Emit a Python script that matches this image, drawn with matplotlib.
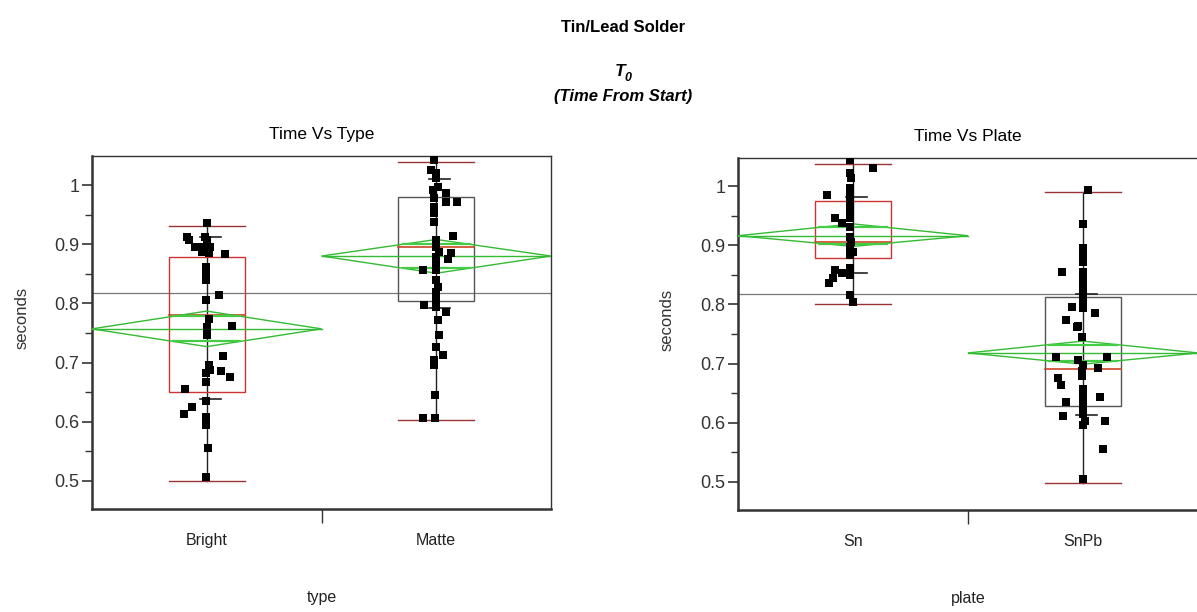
import matplotlib
matplotlib.use("Agg")
import matplotlib.pyplot as plt
from matplotlib.patches import Polygon, Rectangle
from matplotlib.ticker import MultipleLocator

W, H = 1197, 612

NARROW = ["Liberation Sans Narrow", "Liberation Sans", "DejaVu Sans"]
REGULAR = ["Liberation Sans", "DejaVu Sans"]

GRAND_MEAN = 0.818

# panel 1: time vs type
TYPE_GROUPS = ["Bright", "Matte"]
# panel 2: time vs plate
PLATE_GROUPS = ["Sn", "SnPb"]

# box summaries: q1, median, q3, whisker low, whisker high, p10, p90
BOX_STATS = {
    "Bright": (0.650, 0.780, 0.878, 0.500, 0.931, 0.638, 0.912),
    "Matte": (0.804, 0.895, 0.980, 0.603, 1.039, 0.793, 1.010),
    "Sn": (0.878, 0.905, 0.975, 0.801, 1.037, 0.853, 0.981),
    "SnPb": (0.628, 0.691, 0.812, 0.498, 0.990, 0.613, 0.818),
}
# means diamond: mean, lower 95%, upper 95%
DIAMONDS = {
    "Bright": (0.757, 0.727, 0.787),
    "Matte": (0.880, 0.851, 0.908),
    "Sn": (0.916, 0.898, 0.936),
    "SnPb": (0.718, 0.699, 0.738),
}
BOX_EDGE = {"Bright": "#cc3333", "Matte": "#555555", "Sn": "#cc3333", "SnPb": "#555555"}

# jittered observations: offset from group centre (group units), seconds
BRIGHT_DX = [0.0, -0.087, -0.079, -0.052, -0.009, 0.0, -0.022, 0.013, 0.009, -0.022,
             0.079, -0.004, -0.004, -0.004, -0.004, 0.052, 0.009, 0.0, 0.0, 0.109,
             0.070, 0.009, 0.013, -0.004, 0.061, 0.100, -0.004, -0.096, -0.004, -0.066,
             -0.100, -0.004, -0.004, -0.004, 0.004, -0.004]
BRIGHT_Y = [0.936, 0.912, 0.907, 0.895, 0.912, 0.907, 0.895, 0.895, 0.885, 0.887,
            0.884, 0.861, 0.851, 0.840, 0.806, 0.814, 0.774, 0.760, 0.747, 0.762,
            0.711, 0.696, 0.687, 0.682, 0.686, 0.676, 0.667, 0.655, 0.635, 0.625,
            0.613, 0.608, 0.600, 0.595, 0.556, 0.507]
MATTE_DX = [-0.009, -0.022, 0.0, 0.0, -0.013, 0.009, 0.044, 0.044, 0.092, -0.009,
            -0.009, -0.009, -0.009, 0.074, 0.0, 0.0, 0.013, 0.066, 0.052, 0.0,
            0.0, -0.057, 0.0, 0.0, 0.009, 0.0, -0.052, 0.0, 0.0, 0.044,
            0.009, 0.013, 0.0, 0.031, -0.009, -0.009, -0.004, -0.057, -0.004]
MATTE_Y = [1.042, 1.025, 1.020, 1.012, 0.992, 0.997, 0.986, 0.971, 0.971, 0.978,
           0.963, 0.953, 0.938, 0.914, 0.907, 0.895, 0.887, 0.885, 0.875, 0.878,
           0.868, 0.856, 0.856, 0.840, 0.828, 0.819, 0.797, 0.806, 0.794, 0.785,
           0.772, 0.747, 0.726, 0.713, 0.704, 0.696, 0.645, 0.606, 0.606]
SN_DX = [-0.013, 0.087, -0.013, -0.009, -0.114, -0.013, -0.013, -0.013, -0.013, -0.013,
         -0.013, -0.079, -0.048, -0.013, -0.013, -0.009, -0.013, 0.0, -0.013, -0.079,
         -0.048, -0.013, -0.013, -0.087, -0.105, -0.013, 0.0]
SN_Y = [1.044, 1.030, 1.022, 1.014, 0.985, 0.997, 0.988, 0.980, 0.968, 0.956,
        0.946, 0.946, 0.938, 0.931, 0.914, 0.905, 0.897, 0.889, 0.883, 0.858,
        0.853, 0.861, 0.850, 0.845, 0.836, 0.816, 0.804]
SNPB_DX = [0.022, 0.0, 0.0, 0.0, 0.0, -0.092, 0.0, 0.0, 0.0, 0.0,
           0.0, -0.048, 0.0, 0.052, -0.074, -0.022, -0.026, -0.004, -0.118, 0.105,
           -0.022, 0.0, 0.066, -0.004, -0.004, -0.109, -0.096, 0.0, 0.0, 0.074,
           -0.074, 0.0, 0.0, -0.087, 0.0, 0.009, 0.096, 0.0, 0.087, 0.0]
SNPB_Y = [0.993, 0.936, 0.895, 0.883, 0.872, 0.855, 0.855, 0.845, 0.833, 0.821,
          0.807, 0.796, 0.794, 0.785, 0.774, 0.764, 0.762, 0.745, 0.711, 0.711,
          0.706, 0.698, 0.693, 0.687, 0.679, 0.676, 0.664, 0.657, 0.649, 0.644,
          0.635, 0.635, 0.625, 0.611, 0.615, 0.603, 0.603, 0.596, 0.556, 0.505]

POINTS = {
    "Bright": (BRIGHT_DX, BRIGHT_Y),
    "Matte": (MATTE_DX, MATTE_Y),
    "Sn": (SN_DX, SN_Y),
    "SnPb": (SNPB_DX, SNPB_Y),
}

YTICKS = [0.5, 0.6, 0.7, 0.8, 0.9, 1.0]
YTICK_LABELS = ["0.5", "0.6", "0.7", "0.8", "0.9", "1"]


def px_rect(left, top, right, bottom):
    return [left / W, 1 - bottom / H, (right - left) / W, (bottom - top) / H]


def draw_group(ax, name, centre):
    q1, med, q3, wlo, whi, p10, p90 = BOX_STATS[name]
    half = 0.166
    mean, lo, hi = DIAMONDS[name]
    # means diamond across the whole group slot
    diamond = Polygon(
        [(centre - 0.5, mean), (centre, hi), (centre + 0.5, mean), (centre, lo)],
        closed=True, fill=False, edgecolor="#33bb33", lw=1.0, zorder=3,
    )
    ax.add_patch(diamond)
    ax.plot([centre - 0.5, centre + 0.5], [mean, mean], color="#33bb33", lw=1.0, zorder=3)
    ov = (hi - mean) / 2 ** 0.5
    for yv in (mean + ov, mean - ov):
        frac = 1 - ov / (hi - mean)
        ax.plot([centre - 0.5 * frac, centre + 0.5 * frac], [yv, yv],
                color="#44cc44", lw=1.6, zorder=3)

    # whiskers and caps
    ax.plot([centre, centre], [wlo, whi], color="#222222", lw=1.0, zorder=2)
    for yv in (wlo, whi):
        ax.plot([centre - half, centre + half], [yv, yv], color="#993333", lw=1.0, zorder=2)
    # box
    ax.add_patch(Rectangle((centre - half, q1), 2 * half, q3 - q1, fill=False,
                           edgecolor=BOX_EDGE[name], lw=1.0, zorder=2))
    ax.plot([centre - half, centre + half], [med, med], color="#cc4422", lw=1.2, zorder=2)
    # 10% / 90% quantile marks
    for yv in (p10, p90):
        ax.plot([centre - 0.03, centre + 0.06], [yv, yv], color="#222222", lw=1.2, zorder=2)

    dx, ys = POINTS[name]
    xs = [centre + d for d in dx]
    ax.scatter(xs, ys, marker="s", s=28, color="black", linewidths=0, zorder=4)


def setup_axes(ax, groups, xlabel, title, ylim, label_x):
    ax.set_xlim(0, 2)
    ax.set_ylim(*ylim)
    ax.axhline(GRAND_MEAN, color="#777777", lw=0.9, zorder=1)
    for i, g in enumerate(groups):
        draw_group(ax, g, 0.5 + i)

    ax.set_yticks(YTICKS)
    ax.set_yticklabels(YTICK_LABELS, family=REGULAR, fontsize=13, color="#333333")
    ax.yaxis.set_minor_locator(MultipleLocator(0.05))
    ax.tick_params(axis="y", which="major", length=7, width=1.2, color="#333333", pad=2)
    ax.tick_params(axis="y", which="minor", length=5, width=1.0, color="#333333")
    ax.set_xticks([1.0])
    ax.set_xticklabels([""])
    ax.tick_params(axis="x", which="major", length=10, width=1.0, color="#333333")
    for i, g in enumerate(groups):
        ax.text(0.5 + i, -0.09, g, transform=ax.get_xaxis_transform(), ha="center",
                va="center", family=REGULAR, fontsize=11.5, color="#222222")
    ax.text(1.0, -0.25, xlabel, transform=ax.get_xaxis_transform(), ha="center",
            va="center", family=REGULAR, fontsize=11.5, color="#222222")
    ax.set_ylabel("seconds", family=REGULAR, fontsize=12, color="#333333")
    ax.yaxis.set_label_coords(label_x, 0.54)
    ax.set_title(title, family=NARROW, fontsize=12.5, pad=12)

    for side in ("left", "bottom"):
        ax.spines[side].set_linewidth(1.8)
        ax.spines[side].set_color("#333333")
    for side in ("top", "right"):
        ax.spines[side].set_linewidth(1.0)
        ax.spines[side].set_color("#333333")


fig = plt.figure(figsize=(W / 100, H / 100), dpi=100)

ax1 = fig.add_axes(px_rect(92, 156, 551, 509))
setup_axes(ax1, TYPE_GROUPS, "type", "Time Vs Type", (0.4527, 1.049), -0.136)

ax2 = fig.add_axes(px_rect(738, 158, 1198, 510))
setup_axes(ax2, PLATE_GROUPS, "plate", "Time Vs Plate", (0.4527, 1.0473), -0.138)

fig.text(623 / W, 1 - 27 / H, "Tin/Lead Solder", ha="center", va="center",
         family=NARROW, fontsize=12, fontweight="bold")
fig.text(620 / W, 1 - 72 / H, "T", ha="center", va="center",
         family=NARROW, fontsize=12.5, fontweight="bold", style="italic")
fig.text(628 / W, 1 - 78 / H, "0", ha="center", va="center",
         family=NARROW, fontsize=9, fontweight="bold", style="italic")
fig.text(623 / W, 1 - 96 / H, "(Time From Start)", ha="center", va="center",
         family=NARROW, fontsize=12, fontweight="bold", style="italic")

fig.savefig("out.png", dpi=100)
